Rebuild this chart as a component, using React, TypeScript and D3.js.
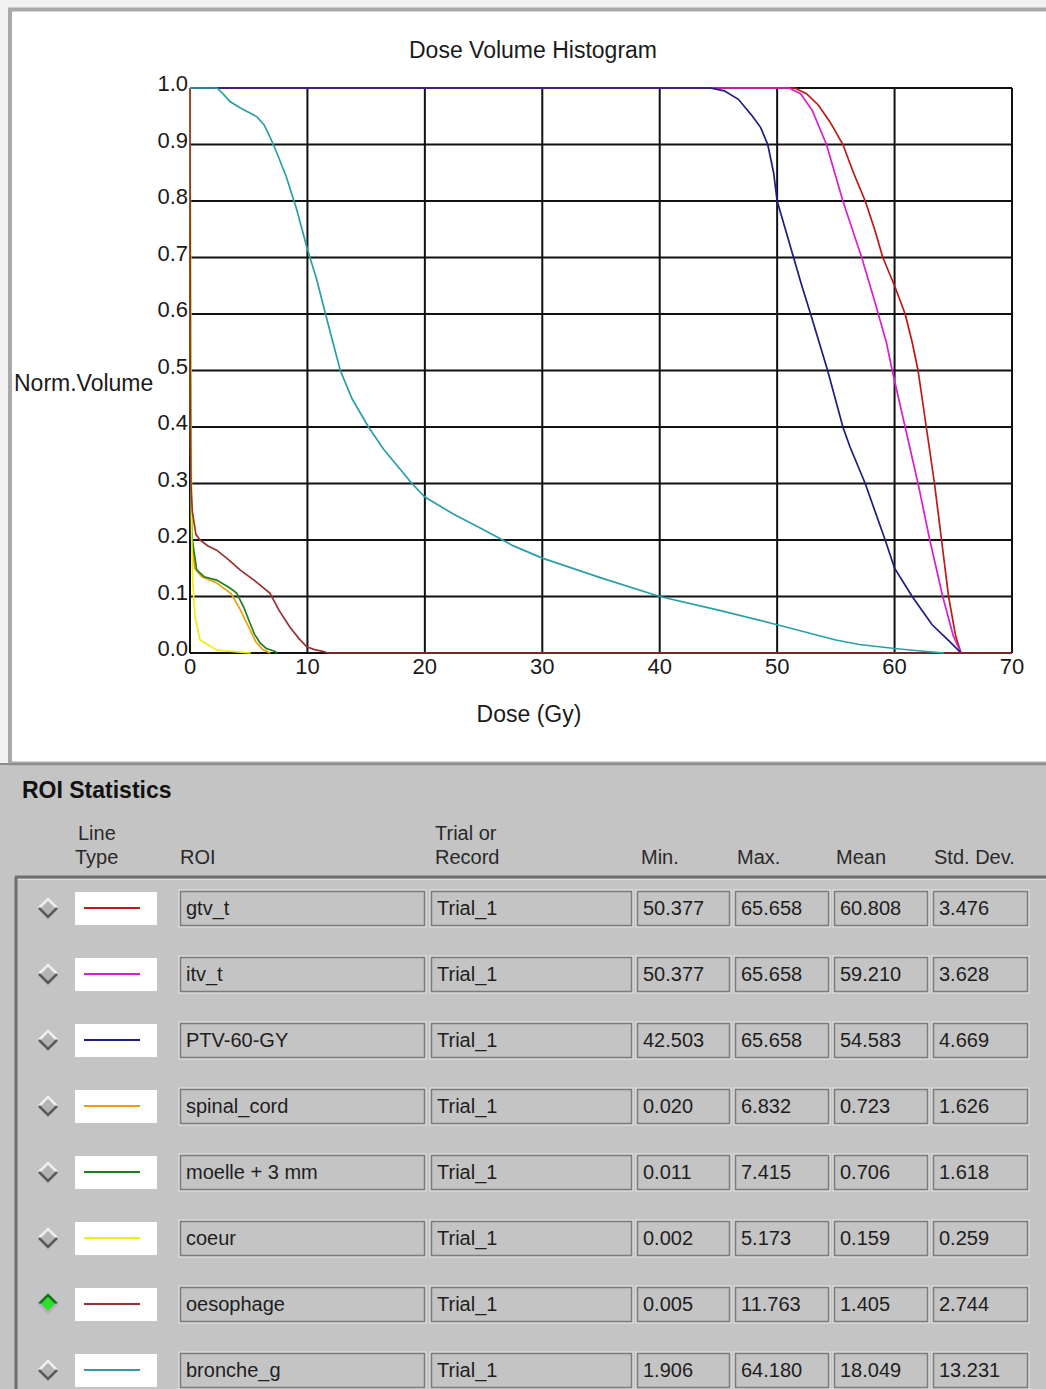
import React from "react";
import * as d3 from "d3";

// ---------- data ----------
const xTicks = [0, 10, 20, 30, 40, 50, 60, 70];
const yTicks = [0, 0.1, 0.2, 0.3, 0.4, 0.5, 0.6, 0.7, 0.8, 0.9, 1.0];

const gtvT: [number, number][] = [
  [0, 1], [51.5, 1], [52.5, 0.99], [53.5, 0.97], [54.5, 0.94], [55.6, 0.9], [56.5, 0.85],
  [57.5, 0.8], [58.3, 0.75], [59, 0.7], [60, 0.65], [60.9, 0.6], [61.5, 0.55], [62.0, 0.5],
  [62.7, 0.4], [63.4, 0.3], [64.0, 0.2], [64.6, 0.1], [65.2, 0.03], [65.66, 0],
];
const itvT: [number, number][] = [
  [0, 1], [51, 1], [52, 0.99], [53, 0.96], [54.2, 0.9], [55.6, 0.8], [57.2, 0.7], [58.2, 0.63],
  [59.3, 0.55], [59.8, 0.5], [60.9, 0.4], [62.0, 0.3], [63.0, 0.2], [64.1, 0.1], [65.0, 0.03], [65.66, 0],
];
const ptv60: [number, number][] = [
  [0, 1], [44.3, 1], [45.5, 0.995], [46.7, 0.98], [47.9, 0.95], [48.6, 0.93], [49.2, 0.9],
  [49.7, 0.85], [50.0, 0.8], [50.7, 0.75], [51.4, 0.7], [52.1, 0.65], [52.85, 0.6], [54.3, 0.5],
  [55.6, 0.4], [56.2, 0.365], [57.5, 0.3], [59.2, 0.2], [60.0, 0.15], [61.5, 0.1], [63.2, 0.05],
  [64.7, 0.02], [65.66, 0],
];
const spinalCord: [number, number][] = [
  [0, 1], [0.03, 0.48], [0.08, 0.3], [0.15, 0.2], [0.4, 0.15], [1.0, 0.135], [2.2, 0.125],
  [3.5, 0.105], [4.2, 0.08], [4.9, 0.05], [5.6, 0.02], [6.2, 0.006], [6.83, 0],
];
const moelle3mm: [number, number][] = [
  [0, 1], [0.03, 0.45], [0.1, 0.25], [0.2, 0.2], [0.57, 0.147], [1.2, 0.135], [2.27, 0.129],
  [3.4, 0.115], [3.97, 0.106], [4.6, 0.08], [5.1, 0.053], [5.5, 0.033], [5.96, 0.018],
  [6.5, 0.008], [7.2, 0.003], [7.415, 0],
];
const coeur: [number, number][] = [
  [0, 1], [0.02, 0.83], [0.05, 0.77], [0.1, 0.4], [0.15, 0.2], [0.25, 0.12], [0.43, 0.064],
  [0.85, 0.023], [2.3, 0.005], [5.17, 0],
];
const oesophage: [number, number][] = [
  [0, 1], [0.03, 0.5], [0.08, 0.3], [0.2, 0.25], [0.5, 0.21], [0.85, 0.2], [1.5, 0.19],
  [2.27, 0.182], [3.3, 0.165], [4.26, 0.147], [5.5, 0.128], [6.8, 0.106], [7.6, 0.075],
  [8.5, 0.046], [9.3, 0.025], [9.94, 0.011], [10.6, 0.006], [11.3, 0.003], [11.76, 0], [70, 0],
];
const broncheG: [number, number][] = [
  [0, 1], [2.3, 1], [2.8, 0.99], [3.4, 0.976], [4.26, 0.965], [5.7, 0.949], [6.3, 0.935],
  [6.8, 0.914], [7.4, 0.885], [8.2, 0.843], [9.1, 0.784], [9.94, 0.719], [10.8, 0.66],
  [11.6, 0.595], [12.8, 0.5], [13.8, 0.45], [15.2, 0.4], [16.5, 0.36], [18.9, 0.3], [20, 0.276],
  [22.5, 0.245], [25, 0.218], [27.5, 0.19], [30, 0.168], [35, 0.133], [40, 0.1], [45, 0.076],
  [50, 0.05], [55, 0.023], [57, 0.015], [60, 0.008], [62, 0.004], [64.18, 0],
];

const roiNames = ["gtv_t", "itv_t", "PTV-60-GY", "spinal_cord", "moelle + 3 mm", "coeur", "oesophage", "bronche_g"];
const roiColors = ["#c01818", "#d820d0", "#1c1c84", "#eea000", "#1e7e1e", "#f2ec10", "#9a3030", "#2aa0a4"];
const roiCurves = [gtvT, itvT, ptv60, spinalCord, moelle3mm, coeur, oesophage, broncheG];
const trialNames = ["Trial_1", "Trial_1", "Trial_1", "Trial_1", "Trial_1", "Trial_1", "Trial_1", "Trial_1"];
const minDose = ["50.377", "50.377", "42.503", "0.020", "0.011", "0.002", "0.005", "1.906"];
const maxDose = ["65.658", "65.658", "65.658", "6.832", "7.415", "5.173", "11.763", "64.180"];
const meanDose = ["60.808", "59.210", "54.583", "0.723", "0.706", "0.159", "1.405", "18.049"];
const stdDev = ["3.476", "3.628", "4.669", "1.626", "1.618", "0.259", "2.744", "13.231"];
const selectedRow = 6;

// ---------- drawing ----------
const W = 1046;
const H = 1389;
const FONT = "'Liberation Sans', Arial, Helvetica, sans-serif";

const x = d3.scaleLinear().domain([0, 70]).range([190, 1012]);
const y = d3.scaleLinear().domain([0, 1]).range([653, 88]);
const line = d3.line<[number, number]>().x((d) => x(d[0])).y((d) => y(d[1]));

const drawOrder = [0, 1, 2, 3, 4, 5, 6, 7];

function Field({ x0, x1, cy, text }: { x0: number; x1: number; cy: number; text: string }) {
  const top = cy - 17;
  const h = 35;
  return (
    <g>
      <rect x={x0 - 1} y={top - 1} width={x1 - x0 + 2} height={h + 2} fill="none" stroke="#e6e6e6" strokeWidth={1} />
      <rect x={x0 + 0.5} y={top + 0.5} width={x1 - x0 - 1} height={h - 1} fill="#c4c4c4" stroke="#7c7c7c" strokeWidth={1.5} />
      <text x={x0 + 6} y={cy + 7} fontSize={20} fill="#1e1e1e" fontFamily={FONT}>{text}</text>
    </g>
  );
}

function Diamond({ cx, cy, selected }: { cx: number; cy: number; selected: boolean }) {
  const r = 9;
  const fill = selected ? "#2ee02e" : "#b4b4b4";
  const light = selected ? "#1f6f1f" : "#efefef";
  const dark = selected ? "#c8a8c8" : "#5a5a5a";
  return (
    <g>
      <path d={`M${cx - r},${cy} L${cx},${cy - r} L${cx + r},${cy} L${cx},${cy + r} Z`} fill={fill} />
      <path d={`M${cx - r},${cy} L${cx},${cy - r} L${cx + r},${cy}`} fill="none" stroke={light} strokeWidth={2.5} />
      <path d={`M${cx - r},${cy} L${cx},${cy + r} L${cx + r},${cy}`} fill="none" stroke={dark} strokeWidth={2.5} />
    </g>
  );
}

export default function App() {
  const rowY = (i: number) => 908 + i * 66;
  return (
    <svg
      width={W}
      height={H}
      style={{ position: "absolute", left: 0, top: 0, display: "block" }}
      fontFamily={FONT}
    >
      {/* background */}
      <rect x={0} y={0} width={W} height={H} fill="#c4c4c4" />
      <rect x={0} y={0} width={W} height={765} fill="#f2f2f2" />
      <rect x={10} y={9.5} width={W} height={754} fill="#ffffff" stroke="#a9a9a9" strokeWidth={4} />
      <line x1={0} x2={W} y1={764} y2={764} stroke="#8c8c8c" strokeWidth={2} />

      {/* title & labels */}
      <text x={533} y={58} textAnchor="middle" fontSize={23} fill="#1a1a1a">Dose Volume Histogram</text>
      <text x={14} y={391} fontSize={23} fill="#1a1a1a">Norm.Volume</text>
      <text x={529} y={722} textAnchor="middle" fontSize={23} fill="#1a1a1a">Dose (Gy)</text>

      {/* grid */}
      {xTicks.map((t) => (
        <line key={"gx" + t} x1={x(t)} x2={x(t)} y1={y(0)} y2={y(1)} stroke="#111" strokeWidth={2} />
      ))}
      {yTicks.map((t) => (
        <line key={"gy" + t} x1={x(0)} x2={x(70)} y1={y(t)} y2={y(t)} stroke="#111" strokeWidth={2} />
      ))}
      {yTicks.map((t) => (
        <text key={"ty" + t} x={188} y={y(t) + 3} textAnchor="end" fontSize={22} fill="#1a1a1a">
          {d3.format(".1f")(t)}
        </text>
      ))}
      {xTicks.map((t) => (
        <text key={"tx" + t} x={x(t)} y={674} textAnchor="middle" fontSize={22} fill="#1a1a1a">
          {t}
        </text>
      ))}

      {/* curves */}
      {drawOrder.map((i) => (
        <path key={"c" + i} d={line(roiCurves[i]) || ""} fill="none" stroke={roiColors[i]} strokeWidth={1.7} />
      ))}

      {/* ROI statistics */}
      <text x={22} y={798} fontSize={23} fontWeight="bold" fill="#111">ROI Statistics</text>
      <g fontSize={20} fill="#2a2a2a">
        <text x={78} y={840}>Line</text>
        <text x={75} y={864}>Type</text>
        <text x={180} y={864}>ROI</text>
        <text x={435} y={840}>Trial or</text>
        <text x={435} y={864}>Record</text>
        <text x={641} y={864}>Min.</text>
        <text x={737} y={864}>Max.</text>
        <text x={836} y={864}>Mean</text>
        <text x={934} y={864}>Std. Dev.</text>
      </g>
      <line x1={15} x2={W} y1={877} y2={877} stroke="#6e6e6e" strokeWidth={3} />
      <line x1={16} x2={16} y1={877} y2={H} stroke="#6e6e6e" strokeWidth={3} />
      <line x1={18} x2={W} y1={879.5} y2={879.5} stroke="#dcdcdc" strokeWidth={1} />

      {roiNames.map((name, i) => {
        const cy = rowY(i);
        return (
          <g key={"row" + i}>
            <Diamond cx={48} cy={cy} selected={i === selectedRow} />
            <rect x={75} y={cy - 16} width={82} height={33} fill="#ffffff" />
            <line x1={84} x2={140} y1={cy} y2={cy} stroke={roiColors[i]} strokeWidth={2} />
            <Field x0={180} x1={425} cy={cy} text={name} />
            <Field x0={431} x1={632} cy={cy} text={trialNames[i]} />
            <Field x0={637} x1={730} cy={cy} text={minDose[i]} />
            <Field x0={735} x1={829} cy={cy} text={maxDose[i]} />
            <Field x0={834} x1={928} cy={cy} text={meanDose[i]} />
            <Field x0={933} x1={1028} cy={cy} text={stdDev[i]} />
          </g>
        );
      })}
    </svg>
  );
}
